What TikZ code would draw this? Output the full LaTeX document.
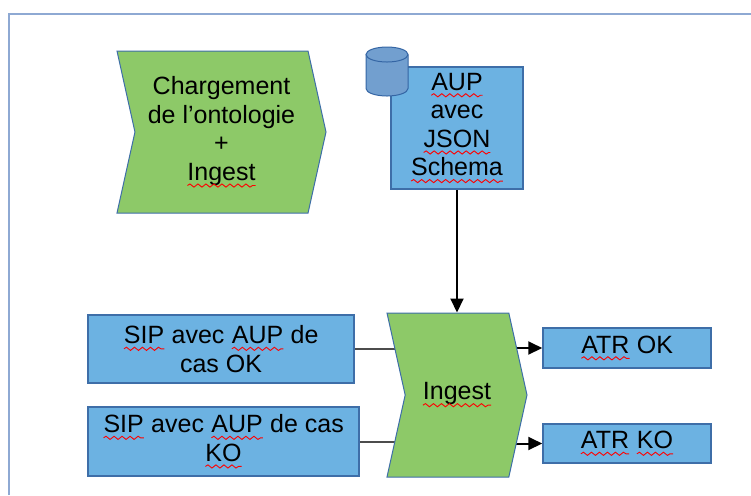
\documentclass[tikz,border=0pt]{standalone}
\usepackage{fontspec}
\setmainfont{Liberation Sans}
\usetikzlibrary{shapes.symbols,arrows.meta,backgrounds,decorations.pathmorphing}
\definecolor{chevgreen}{RGB}{141,201,104}
\definecolor{boxblue}{RGB}{108,178,226}
\definecolor{boxline}{RGB}{62,110,168}
\definecolor{dbfill}{RGB}{114,159,207}
\definecolor{dbline}{RGB}{52,101,164}
\definecolor{framecol}{RGB}{142,169,211}
\newcommand\spellerr[1]{\tikz[baseline=(w.base)]{\node[shape=rectangle,draw=none,fill=none,minimum width=0pt,minimum height=0pt,inner sep=0pt,outer sep=0pt] (w) {#1};
	\draw [red,line width=0.45pt,decorate,decoration={snake,segment length=4pt,amplitude=0.8pt}] ([yshift=-2.6pt]w.base west) -- ([yshift=-2.6pt]w.base east);}}
\begin{document}
\begin{tikzpicture}[x=0.5pt,y=-0.5pt,
	every node/.style={font=\fontsize{12.5}{14.3}\selectfont,align=center,inner sep=0pt},
	task/.style={shape=signal,signal from=west,signal to=east,signal pointer angle=155,fill=chevgreen,draw=boxline,line width=0.5pt},
	doc/.style={rectangle,fill=boxblue,draw=boxline,line width=0.75pt},
	db/.style={fill=dbfill,draw=dbline,line width=0.5pt},
	link/.style={draw=black!70,line width=1pt},
	flow/.style={draw=black,line width=1pt,-{Triangle[length=7pt,width=6.5pt]}}]
		\useasboundingbox (0,0) rectangle (751,495);
		\draw [framecol,line width=0.75pt] (9,495) -- (9,14) -- (751,14);
		\node [task,minimum width=104.5pt,minimum height=81pt] (load) at (221.5,132) {Chargement\\de l’ontologie\\+\\\spellerr{Ingest}};
		\node [doc,minimum width=66pt,minimum height=61pt] (aup) at (457,128) {\spellerr{AUP}\\avec\\\spellerr{JSON}\\\spellerr{Schema}};
		\coordinate (db) at (387,54.5);
		\filldraw [db] (db) ++(-21,0) -- ++(0,34) arc [start angle=180,end angle=0,x radius=21,y radius=7.5] -- ++(0,-34);
		\filldraw [db] (db) ellipse [x radius=21,y radius=7.5];
		\node [task,minimum width=70pt,minimum height=82pt] (ingest) at (457,395) {\spellerr{Ingest}};
		\node [doc,minimum width=133pt,minimum height=34pt] (sipok) at (221,349) {\spellerr{SIP} avec \spellerr{AUP} de\\cas OK};
		\node [doc,minimum width=135.5pt,minimum height=34.5pt] (sipko) at (223.5,441.5) {\spellerr{SIP} avec \spellerr{AUP} de cas\\\spellerr{KO}};
		\node [doc,minimum width=84pt,minimum height=20pt] (atrok) at (627,348) {\spellerr{ATR} OK};
		\node [doc,minimum width=84pt,minimum height=19.5pt] (atrko) at (627,443.5) {\spellerr{ATR} \spellerr{KO}};
		\draw [flow] (aup.south) -- (ingest.north);
		\begin{pgfonlayer}{background}
			\draw [link] (sipok.east) -- (sipok.east -| ingest.center);
			\draw [link] (sipko.east) -- (sipko.east -| ingest.center);
			\draw [flow] (atrok.west -| ingest.center) -- (atrok.west);
			\draw [flow] (atrko.west -| ingest.center) -- (atrko.west);
		\end{pgfonlayer}
\end{tikzpicture}
\end{document}
